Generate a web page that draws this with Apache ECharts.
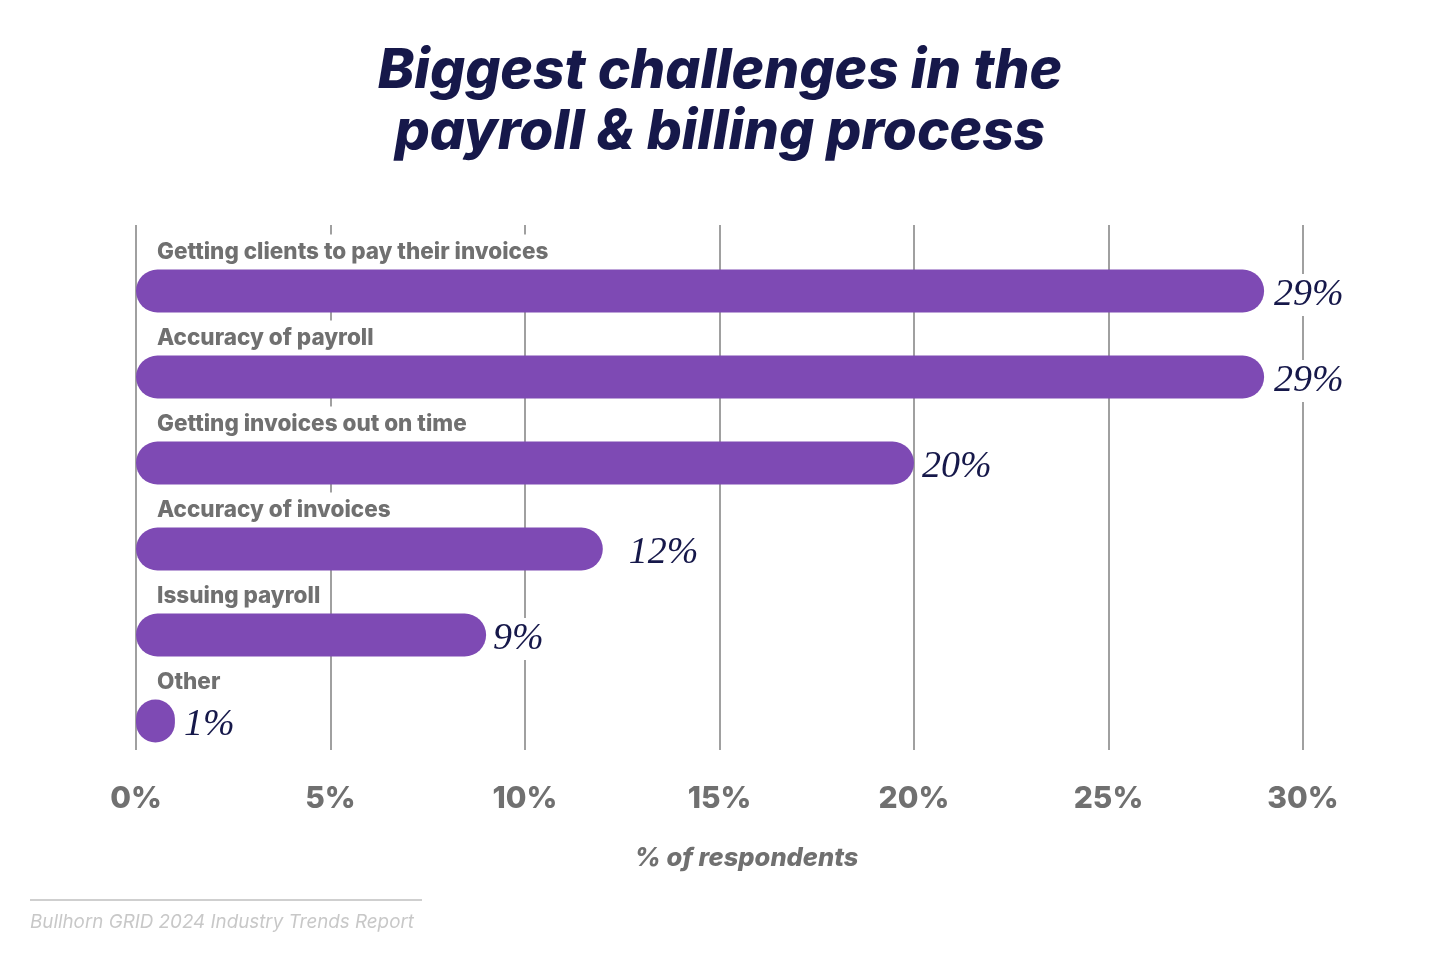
<!DOCTYPE html>
<html>
<head>
<meta charset="utf-8">
<script src="https://cdn.jsdelivr.net/npm/echarts@6/dist/echarts.min.js"></script>
<style>html,body{margin:0;padding:0;background:#fff}#c{width:1440px;height:956px}</style>
</head>
<body>
<div id="c"></div>
<script>
const categories = ["Getting clients to pay their invoices","Accuracy of payroll","Getting invoices out on time","Accuracy of invoices","Issuing payroll","Other"];
const values = [29, 29, 20, 12, 9, 1];
const valueLabels = ["29%","29%","20%","12%","9%","1%"];
const labelGaps = [8, 8, 6, 24, 5, 7];
const ticks = [0, 5, 10, 15, 20, 25, 30];

const chart = echarts.init(document.getElementById('c'));
const gray = '#707070';
const navy = '#16184a';
const purple = '#7e4ab4';
const sans = 'Inter';

chart.setOption({
  animation: false,
  title: {
    text: 'Biggest challenges in the\npayroll & billing process',
    left: 'center', top: 36,
    textStyle: { fontFamily: sans, fontWeight: 800, fontStyle: 'italic', fontSize: 55, lineHeight: 61, color: navy }
  },
  grid: [
    { left: 136, right: 137, top: 225, bottom: 206 },
    { left: 136, right: 137, top: 248, bottom: 192 }
  ],
  xAxis: [
    { gridIndex: 0, type: 'value', min: 0, max: 30, interval: 5,
      axisLine: { show: false }, axisTick: { show: false },
      splitLine: { show: true, lineStyle: { color: '#a0a0a0', width: 2 } },
      axisLabel: { formatter: v => v + '%', margin: 34, color: gray, fontFamily: sans, fontWeight: 800, fontSize: 30 },
      name: '% of respondents', nameLocation: 'middle', nameGap: 95,
      nameTextStyle: { color: gray, fontFamily: sans, fontWeight: 800, fontStyle: 'italic', fontSize: 25.5, padding: [0, 0, 0, 54] }
    },
    { gridIndex: 1, type: 'value', min: 0, max: 30, show: false }
  ],
  yAxis: [
    { gridIndex: 0, type: 'category', data: categories, show: false },
    { gridIndex: 1, type: 'category', data: categories, inverse: true, show: false }
  ],
  series: [
    {
      type: 'bar', xAxisIndex: 1, yAxisIndex: 1, barWidth: 43, z: 3,
      data: values.map((v, i) => ({ value: v, label: { distance: labelGaps[i] } })),
      itemStyle: { color: purple, borderRadius: 21.5 },
      label: {
        show: true, position: 'right', offset: [0, 4],
        formatter: p => valueLabels[p.dataIndex],
        fontFamily: 'Liberation Serif', fontStyle: 'italic', fontSize: 38, color: navy,
        backgroundColor: '#fff', padding: [2, 4, 2, 2]
      }
    },
    {
      type: 'bar', xAxisIndex: 1, yAxisIndex: 1, barWidth: 43, barGap: '-100%', z: 2, silent: true,
      data: values,
      itemStyle: { color: 'rgba(0,0,0,0)' },
      label: {
        show: true, position: [17, -17], align: 'left', verticalAlign: 'middle',
        formatter: p => categories[p.dataIndex],
        fontFamily: sans, fontWeight: 800, fontSize: 22.5, color: gray,
        backgroundColor: '#fff', padding: [6, 4, 6, 4], lineHeight: 24
      }
    }
  ],
  graphic: [
    { type: 'line', shape: { x1: 30, y1: 900, x2: 422, y2: 900 }, style: { stroke: '#cfcfcf', lineWidth: 2 } },
    { type: 'text', left: 30, top: 913, style: { text: 'Bullhorn GRID 2024 Industry Trends Report', fontFamily: sans, fontStyle: 'italic', fontSize: 18.8, fill: '#c8c8c8' } }
  ]
});
</script>
</body>
</html>
